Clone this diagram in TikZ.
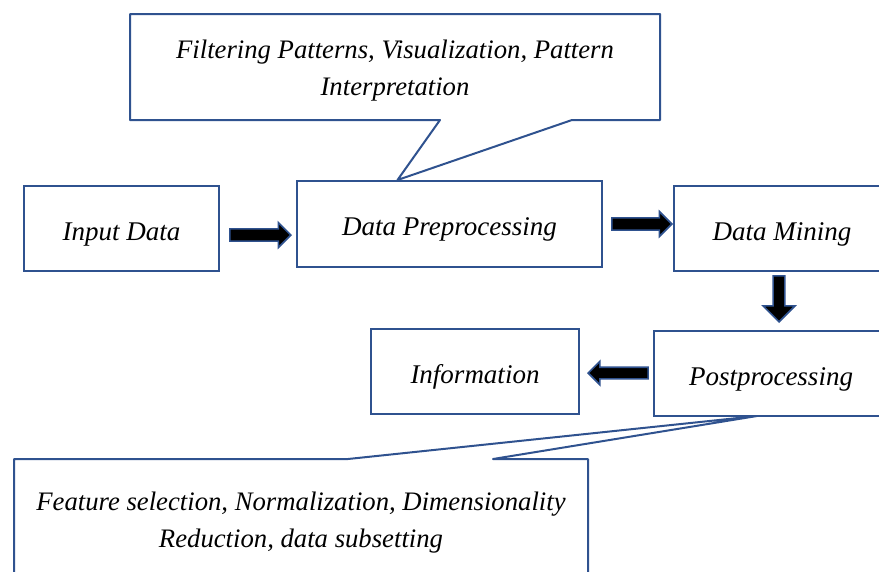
\documentclass[tikz,border=0pt]{standalone}
\usepackage{fontspec}
\setmainfont{Liberation Serif}
\usetikzlibrary{positioning,calc,shapes.arrows}
\definecolor{cedge}{HTML}{2F528F}

\begin{document}
\begin{tikzpicture}[x=1pt, y=-1pt,
  box/.style={rectangle, draw=cedge, line width=2pt, minimum height=85pt,
              align=center, text height=29pt, text depth=6pt,
              font=\itshape\fontsize{27}{36}\selectfont},
  note/.style={align=center, font=\itshape\fontsize{26.7}{37}\selectfont},
  callout/.style={draw=cedge, line width=2pt, line join=round},
  bigarr/.style={single arrow, draw=cedge, fill=black, line width=1.6pt,
                 inner sep=5pt, text height=0pt, text depth=0pt, text width=0pt,
                 minimum width=25pt, single arrow head extend=6pt,
                 single arrow head indent=0pt}
]
\useasboundingbox (0,0) rectangle (879,571);
\clip (0,0) rectangle (879,571);

% --- the process boxes ---
\node[box, minimum width=195pt] (input) at (121.5,228.5) {Input Data};
\node[box, minimum width=305pt, minimum height=86pt] (prep) at (449.5,224) {Data Preprocessing};
\node[box, minimum width=216pt] (mining) at (782,228.5) {Data Mining};
\node[box, minimum width=234pt] (post) at (771,373.5) {Postprocessing};
\node[box, minimum width=208pt] (info) at (475,371.5) {Information};

% --- block arrows between the boxes ---
\node[bigarr, minimum height=61pt, anchor=tip] (a1) at ($(prep.west)+(-4,11)$) {};
\node[bigarr, minimum height=60pt, anchor=tip] (a2) at ($(mining.west)+(0,-4.5)$) {};
\node[bigarr, minimum height=46pt, minimum width=32pt, single arrow head extend=10pt,
      shape border rotate=270, anchor=tip] (a3) at ($(post.north)+(8,-7)$) {};
\node[bigarr, minimum height=60pt, minimum width=23pt, shape border rotate=180,
      anchor=tip] (a4) at ($(info.east)+(7,1.5)$) {};

% --- callout above: pointer on the preprocessing box ---
\coordinate (ptop) at ($(prep.north)+(-52,0)$);
\draw[callout] (130,14) -- (660,14) -- (660,120) -- (572,120) -- (ptop)
  -- (440,120) -- (130,120) -- cycle;
\node[note] (filt) at (395,71)
  {Filtering Patterns, Visualization, Pattern\\Interpretation};

% --- callout below: pointer on the postprocessing box ---
\coordinate (pbot) at ($(post.south)+(-14,-1)$);
\draw[callout] (14,459) -- (348,459) -- (pbot) -- (493,459) -- (588,459)
  -- (588,600) -- (14,600) -- cycle;
\node[note] (feat) at (301,523)
  {Feature selection, Normalization, Dimensionality\\Reduction, data subsetting};

\end{tikzpicture}
\end{document}
